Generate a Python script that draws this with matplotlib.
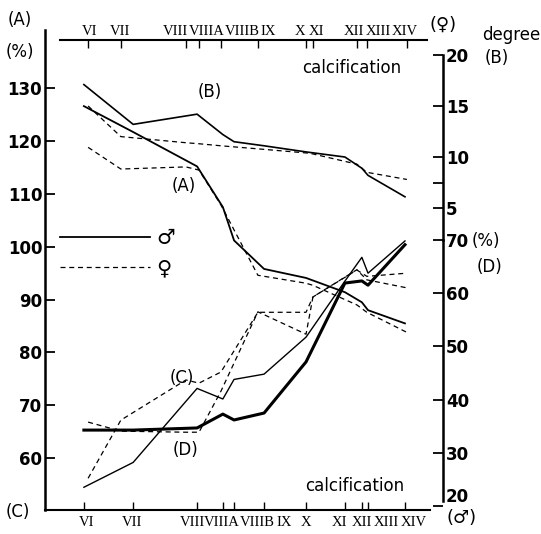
import matplotlib
matplotlib.use('Agg')
import matplotlib.pyplot as plt
from matplotlib.lines import Line2D

stages = ['VI', 'VII', 'VIII', 'VIIIA', 'VIIIB', 'IX', 'X', 'XI', 'XII', 'XIII', 'XIV']
# stage positions along the time axis (0-100), male on the bottom axis, female on the top one
male_pos = [10.1, 22.9, 39.5, 46.2, 49.1, 56.9, 67.8, 77.9, 82.3, 83.9, 93.5]
female_pos = [11.2, 19.7, 36.6, 40.0, 45.7, 55.3, 67.8, 69.6, 81.0, 83.6, 94.0]

# (A) %, left scale
a_male = [126.6, 121.7, 115.2, 107.5, 101.2, 95.8, 94.1, 91.4, 89.5, 88.0, 85.5]
a_female = [118.8, 114.7, 115.1, 114.5, 107.9, 94.6, 93.1, 92.7, 89.0, 87.6, 83.8]
# (B) degree, right upper scale
b_male = [17.1, 13.2, 14.2, 12.2, 11.5, 11.1, 10.5, 10.0, 8.9, 8.2, 6.1]
b_female = [15.0, 12.0, 11.4, 11.3, 11.1, 10.8, 10.4, 10.3, 9.3, 8.5, 7.8]
# (C) %, left scale
c_male = [54.5, 59.2, 73.2, 71.2, 74.9, 75.9, 82.9, 93.5, 98.0, 95.0, 101.1]
c_female = [56.2, 67.2, 74.8, 74.2, 76.3, 87.6, 87.6, 90.5, 95.6, 94.4, 95.0]
# (D) %, right lower scale
d_male = [34.3, 34.3, 34.7, 37.3, 36.2, 37.5, 47.1, 61.9, 62.3, 61.5, 69.1]
d_female = [35.8, 34.1, 33.9, 33.9, 41.6, 56.5, 52.3, 59.3, 64.4, 62.5, 61.0]

left_ticks = [60, 70, 80, 90, 100, 110, 120, 130]
b_ticks = [5, 10, 15, 20]
d_ticks = [20, 30, 40, 50, 60, 70]

# where the roman numerals sit (they are crowded, so not always on the tick)
male_label_x = [10.9, 22.6, 38.2, 46.0, 55.1, 62.1, 67.8, 76.6, 82.3, 88.6, 95.8]
female_label_x = [11.7, 19.5, 34.0, 42.1, 51.2, 57.9, 66.2, 70.6, 80.3, 86.5, 93.5]

W, H = 541, 534
fig = plt.figure(figsize=(W / 100, H / 100), dpi=100)
ax = fig.add_axes([45 / W, 24 / H, 385 / W, 480 / H])

dash = (0, (4, 3))
ax.plot(male_pos, a_male, color='k', lw=1.3)
ax.plot(female_pos, a_female, color='k', lw=0.9, ls=dash)
ax.plot(male_pos, c_male, color='k', lw=1.0)
ax.plot(female_pos, c_female, color='k', lw=0.9, ls=dash)

ax.set_xlim(0, 100)
ax.set_ylim(50.2, 141.0)
ax.set_yticks(left_ticks)
ax.tick_params(axis='y', direction='in', length=7, width=1.3, labelsize=12, pad=2)
for lbl in ax.get_yticklabels():
    lbl.set_fontweight('bold')
ax.set_xticks(male_pos)
ax.set_xticklabels([])
ax.tick_params(axis='x', direction='in', length=6, width=1.0)
for s in ['top', 'right']:
    ax.spines[s].set_visible(False)
ax.spines['left'].set_linewidth(1.8)
ax.spines['bottom'].set_linewidth(1.5)

for x, s in zip(male_label_x, stages):
    ax.text(x, -0.012, s, transform=ax.get_xaxis_transform(), ha='center', va='top',
            family='Liberation Serif', fontsize=10.5)

# female stages on the top line
axt = ax.twiny()
axt.set_xlim(ax.get_xlim())
axt.set_xticks(female_pos)
axt.set_xticklabels([])
axt.tick_params(axis='x', direction='in', length=6, width=1.0)
for s in ['bottom', 'left', 'right']:
    axt.spines[s].set_visible(False)
axt.spines['top'].set_position(('axes', 0.979))
axt.spines['top'].set_bounds(3.9, 99.2)
axt.spines['top'].set_linewidth(1.5)
for x, s in zip(female_label_x, stages):
    axt.text(x, 0.984, s, transform=axt.get_xaxis_transform(), ha='center', va='bottom',
             family='Liberation Serif', fontsize=10.5)

# (B) degree scale
axb = ax.twinx()
axb.plot(male_pos, b_male, color='k', lw=1.2)
axb.plot(female_pos, b_female, color='k', lw=0.9, ls=dash)
axb.set_ylim(-24.6, 22.45)
axb.set_yticks(b_ticks)
# (D) % scale
axd = ax.twinx()
axd.plot(male_pos, d_male, color='k', lw=2.2)
axd.plot(female_pos, d_female, color='k', lw=0.9, ls=dash)
axd.set_ylim(19.3, 109.4)
axd.set_yticks(d_ticks)

for a, lo, hi in [(axb, 1.9, 20), (axd, 21.0, 70)]:
    for s in ['top', 'bottom', 'left']:
        a.spines[s].set_visible(False)
    a.spines['right'].set_position(('axes', 1.034))
    a.spines['right'].set_bounds(lo, hi)
    a.spines['right'].set_linewidth(1.8)
    a.tick_params(axis='y', direction='in', length=7, width=1.3, labelsize=12, pad=2)
    for lbl in a.get_yticklabels():
        lbl.set_fontweight('bold')
axb.set_yticks([7.5], minor=True)
axb.tick_params(axis='y', which='minor', direction='in', length=7, width=1.3)
axd.get_yticklabels()[0].set_va('bottom')

handles = [Line2D([], [], color='k', lw=1.3), Line2D([], [], color='k', lw=0.9, ls=dash)]
ax.legend(handles, ['\u2642', '\u2640'], loc='upper left', bbox_to_anchor=(60 / W, 1 - 228 / H),
          bbox_transform=fig.transFigure, frameon=False, handlelength=4.3, fontsize=15,
          labelspacing=0.5, handletextpad=0.3, borderpad=0, borderaxespad=0)

def ftext(x, y, s, **kw):
    kw.setdefault('fontsize', 12)
    fig.text(x / W, 1 - y / H, s, ha='center', va='center', **kw)

ftext(20, 20, '(A)')
ftext(20, 52, '(%)')
ftext(18, 512, '(C)')
ftext(210, 92, '(B)')
ftext(184, 186, '(A)')
ftext(182, 378, '(C)')
ftext(186, 450, '(D)')
ftext(352, 68, 'calcification')
ftext(355, 486, 'calcification')
ftext(511, 35, 'degree')
ftext(497, 58, '(B)')
ftext(486, 241, '(%)')
ftext(490, 267, '(D)')
ftext(443, 25, '(\u2640)', fontsize=13)
ftext(462, 518, '(\u2642)', fontsize=13)

fig.savefig('out.png', dpi=100)
